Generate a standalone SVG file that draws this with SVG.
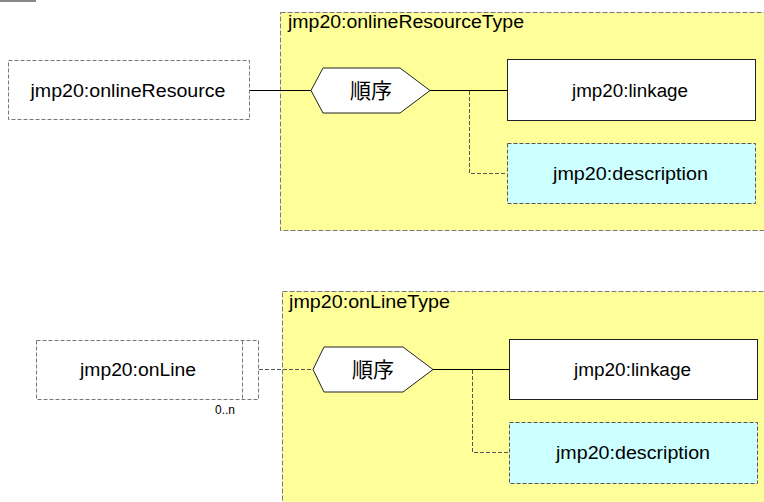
<svg xmlns="http://www.w3.org/2000/svg" width="764" height="502" viewBox="0 0 764 502">
<style>
text{font-family:"Liberation Sans","Noto Sans CJK JP",sans-serif;fill:#000}
.lbl{font-size:18px;text-anchor:middle}
.seq{font-size:21px;text-anchor:middle}
.ttl{font-size:18px}
.ctr{fill:#ffff99;stroke:#777;stroke-width:1;stroke-dasharray:5,2}
.opt{fill:#fff;stroke:#777;stroke-width:1;stroke-dasharray:4,2}
.req{fill:#fff;stroke:#222;stroke-width:1}
.optc{fill:#ccffff;stroke:#555;stroke-width:1;stroke-dasharray:4,2}
.hex{fill:#fff;stroke:#222;stroke-width:1}
.solid{fill:none;stroke:#000;stroke-width:1.2}
.dash{fill:none;stroke:#555;stroke-width:1;stroke-dasharray:4,2}
</style>
<rect x="0" y="0" width="36" height="2" fill="#888"/>
<g id="onlineResourceType">
<rect class="ctr" x="280.5" y="12.5" width="490" height="218"/>
<text class="ttl" x="288" y="28" textLength="236" lengthAdjust="spacingAndGlyphs">jmp20:onlineResourceType</text>
</g>
<g id="onLineType">
<rect class="ctr" x="282.5" y="291.5" width="490" height="220"/>
<text class="ttl" x="289" y="308" textLength="161" lengthAdjust="spacingAndGlyphs">jmp20:onLineType</text>
</g>
<g id="connectors">
<line class="solid" x1="250" y1="90.5" x2="311" y2="90.5"/>
<line class="solid" x1="430" y1="90.5" x2="507" y2="90.5"/>
<polyline class="dash" points="469.5,91 469.5,173.5 507,173.5"/>
<line class="dash" x1="259" y1="369.5" x2="313" y2="369.5"/>
<line class="solid" x1="433" y1="369.5" x2="509" y2="369.5"/>
<polyline class="dash" points="472.5,370 472.5,452.5 509,452.5"/>
</g>
<g id="onlineResource">
<rect class="opt" x="8.5" y="60.5" width="241" height="59"/>
<text class="lbl" x="128" y="97" textLength="195" lengthAdjust="spacingAndGlyphs">jmp20:onlineResource</text>
</g>
<g id="seq1">
<polygon class="hex" points="311,90.5 323,68 400,68 430,90.5 400,113 323,113"/>
<text class="seq" x="371" y="98">順序</text>
</g>
<g id="linkage1">
<rect class="req" x="507.5" y="59.5" width="248" height="61"/>
<text class="lbl" x="630" y="97" textLength="116" lengthAdjust="spacingAndGlyphs">jmp20:linkage</text>
</g>
<g id="description1">
<rect class="optc" x="507.5" y="143.5" width="248" height="60"/>
<text class="lbl" x="630.5" y="180" textLength="155" lengthAdjust="spacingAndGlyphs">jmp20:description</text>
</g>
<g id="onLine">
<rect class="opt" x="36.5" y="340.5" width="222" height="59"/>
<line class="opt" x1="242.5" y1="340.5" x2="242.5" y2="399.5"/>
<text class="lbl" x="138" y="376" textLength="116" lengthAdjust="spacingAndGlyphs">jmp20:onLine</text>
<text x="215" y="414" font-size="12">0..n</text>
</g>
<g id="seq2">
<polygon class="hex" points="313,369.5 324,347 403,347 433,369.5 403,392 324,392"/>
<text class="seq" x="373" y="377">順序</text>
</g>
<g id="linkage2">
<rect class="req" x="509.5" y="339.5" width="248" height="60"/>
<text class="lbl" x="632.5" y="376" textLength="117" lengthAdjust="spacingAndGlyphs">jmp20:linkage</text>
</g>
<g id="description2">
<rect class="optc" x="509.5" y="422.5" width="248" height="61"/>
<text class="lbl" x="633" y="459" textLength="154" lengthAdjust="spacingAndGlyphs">jmp20:description</text>
</g>
</svg>
